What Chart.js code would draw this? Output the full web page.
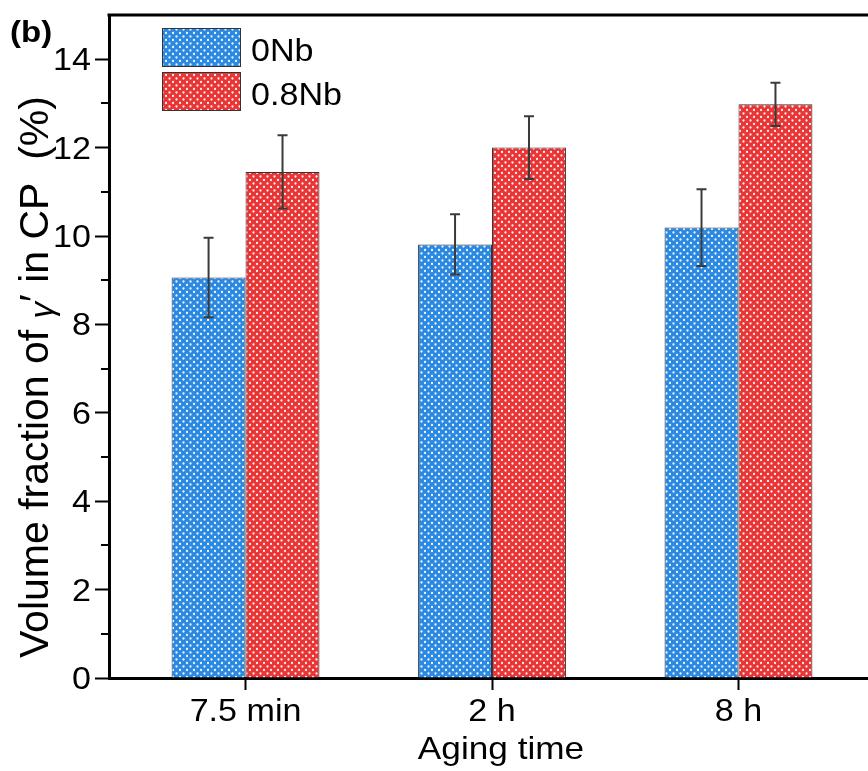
<!DOCTYPE html>
<html>
<head>
<meta charset="utf-8">
<script src="https://cdn.jsdelivr.net/npm/chart.js@4.4.1/dist/chart.umd.min.js"></script>
<style>
  html, body { margin: 0; padding: 0; background: #fff; overflow: hidden; }
  #wrap { width: 868px; height: 771px; overflow: hidden; }
</style>
</head>
<body>
<div id="wrap"><canvas id="chart" width="905" height="771"></canvas></div>
<script>
// data
const agingTimes = ["7.5 min", "2 h", "8 h"];
const seriesNames = ["0Nb", "0.8Nb"];
const fraction0Nb = [9.06, 9.81, 10.19];
const error0Nb = [0.9, 0.68, 0.87];
const fraction08Nb = [11.45, 12.0, 12.98];
const error08Nb = [0.83, 0.71, 0.49];
const yMajorTicks = [0, 2, 4, 6, 8, 10, 12, 14];
const yMinorTicks = [1, 3, 5, 7, 9, 11, 13];

const FONT = "'Liberation Sans', Arial, sans-serif";
const SX = 1.1; // the figure's lettering is a bit wide

// dotted fill like the origin pattern
function dotPattern(base) {
  const c = document.createElement("canvas");
  c.width = 7;
  c.height = 7;
  const g = c.getContext("2d");
  g.fillStyle = base;
  g.fillRect(0, 0, 7, 7);
  g.fillStyle = "rgba(255,255,255,0.92)";
  g.beginPath();
  g.arc(1.5, 1.5, 1.15, 0, Math.PI * 2);
  g.arc(5, 5, 1.15, 0, Math.PI * 2);
  g.fill();
  return g.createPattern(c, "repeat");
}

function wideText(ctx, text, x, y, align, font) {
  ctx.save();
  ctx.translate(x, y);
  ctx.scale(SX, 1);
  ctx.font = font;
  ctx.textAlign = align;
  ctx.textBaseline = "alphabetic";
  ctx.fillStyle = "#000";
  ctx.fillText(text, 0, 0);
  ctx.restore();
}

const blueFill = dotPattern("#2c89e2");
const redFill = dotPattern("#e93535");
const errors = [error0Nb, error08Nb];

const errorBars = {
  id: "errorBars",
  afterDatasetsDraw(chart) {
    const ctx = chart.ctx;
    const y = chart.scales.y;
    ctx.save();
    ctx.strokeStyle = "#3a3a3a";
    ctx.lineWidth = 2;
    errors.forEach((errs, di) => {
      const meta = chart.getDatasetMeta(di);
      meta.data.forEach((bar, i) => {
        const v = chart.data.datasets[di].data[i].y;
        const top = y.getPixelForValue(v + errs[i]);
        const bot = y.getPixelForValue(v - errs[i]);
        ctx.beginPath();
        ctx.moveTo(bar.x, top);
        ctx.lineTo(bar.x, bot);
        ctx.moveTo(bar.x - 5, top);
        ctx.lineTo(bar.x + 5, top);
        ctx.moveTo(bar.x - 5, bot);
        ctx.lineTo(bar.x + 5, bot);
        ctx.stroke();
      });
    });
    ctx.restore();
  }
};

const decor = {
  id: "decor",
  afterDraw(chart) {
    const ctx = chart.ctx;
    const area = chart.chartArea;
    const x = chart.scales.x;
    const y = chart.scales.y;
    ctx.save();

    // top frame line
    ctx.strokeStyle = "#000";
    ctx.lineWidth = 3;
    ctx.beginPath();
    ctx.moveTo(area.left - 1.5, area.top);
    ctx.lineTo(area.right, area.top);
    ctx.stroke();

    // minor ticks on y
    ctx.lineWidth = 2;
    yMinorTicks.forEach((v) => {
      const py = Math.round(y.getPixelForValue(v));
      ctx.beginPath();
      ctx.moveTo(area.left - 8, py);
      ctx.lineTo(area.left, py);
      ctx.stroke();
    });

    // tick labels, placed from the scales
    y.ticks.forEach((t) => {
      wideText(ctx, String(t.value), 91, y.getPixelForValue(t.value) + 11, "right", "31px " + FONT);
    });
    x.ticks.forEach((t) => {
      wideText(ctx, agingTimes[t.value], x.getPixelForValue(t.value), 721, "center", "31px " + FONT);
    });

    // legend
    const fills = [blueFill, redFill];
    const boxTops = [28, 72];
    seriesNames.forEach((name, i) => {
      ctx.fillStyle = fills[i];
      ctx.fillRect(162, boxTops[i], 79, 39);
      ctx.strokeStyle = "#333";
      ctx.lineWidth = 1;
      ctx.strokeRect(162.5, boxTops[i] + 0.5, 78, 38);
      wideText(ctx, name, 251, boxTops[i] + 33, "left", "31px " + FONT);
    });

    // panel label
    wideText(ctx, "(b)", 10, 42, "left", "bold 30px " + FONT);

    // x title
    wideText(ctx, "Aging time", 501, 759, "center", "32px " + FONT);

    // y title, centred where the figure has it
    const parts = [
      ["Volume fraction of ", "41px " + FONT, 0],
      ["\u03b3", "italic 33px " + FONT, 5],
      ["\u2032 in CP  (%)", "41px " + FONT, 0]
    ];
    let total = 0;
    parts.forEach(([t, f]) => {
      ctx.font = f;
      total += ctx.measureText(t).width;
    });
    ctx.save();
    ctx.translate(48, 377 + total / 2);
    ctx.rotate(-Math.PI / 2);
    ctx.textAlign = "left";
    ctx.textBaseline = "alphabetic";
    ctx.fillStyle = "#000";
    let cx = 0;
    parts.forEach(([t, f, dy]) => {
      ctx.font = f;
      ctx.fillText(t, cx, dy);
      cx += ctx.measureText(t).width;
    });
    ctx.restore();
    ctx.restore();
  }
};

new Chart(document.getElementById("chart"), {
  type: "bar",
  data: {
    datasets: [
      {
        label: seriesNames[0],
        data: fraction0Nb.map((v, i) => ({ x: i, y: v })),
        backgroundColor: blueFill,
        borderColor: "#333",
        borderWidth: 1
      },
      {
        label: seriesNames[1],
        data: fraction08Nb.map((v, i) => ({ x: i, y: v })),
        backgroundColor: redFill,
        borderColor: "#333",
        borderWidth: 1
      }
    ]
  },
  options: {
    responsive: false,
    animation: false,
    categoryPercentage: 0.6,
    barPercentage: 1,
    layout: { padding: { left: 0, top: 15, right: 10, bottom: 0 } },
    plugins: {
      legend: { display: false },
      tooltip: { enabled: false }
    },
    scales: {
      x: {
        type: "linear",
        offset: false,
        min: -0.554,
        max: 2.635,
        afterBuildTicks: (scale) => {
          scale.ticks = agingTimes.map((_, i) => ({ value: i }));
        },
        afterFit: (scale) => {
          scale.height = 93;
        },
        ticks: { display: false },
        grid: {
          offset: false,
          drawOnChartArea: false,
          tickLength: 12,
          tickWidth: 2,
          tickColor: "#000"
        },
        border: { color: "#000", width: 3 }
      },
      y: {
        min: 0,
        max: 15,
        afterBuildTicks: (scale) => {
          scale.ticks = yMajorTicks.map((v) => ({ value: v }));
        },
        afterFit: (scale) => {
          scale.width = 109;
        },
        ticks: { display: false },
        grid: {
          drawOnChartArea: false,
          tickLength: 14,
          tickWidth: 2,
          tickColor: "#000"
        },
        border: { color: "#000", width: 3 }
      }
    }
  },
  plugins: [errorBars, decor]
});
</script>
</body>
</html>
